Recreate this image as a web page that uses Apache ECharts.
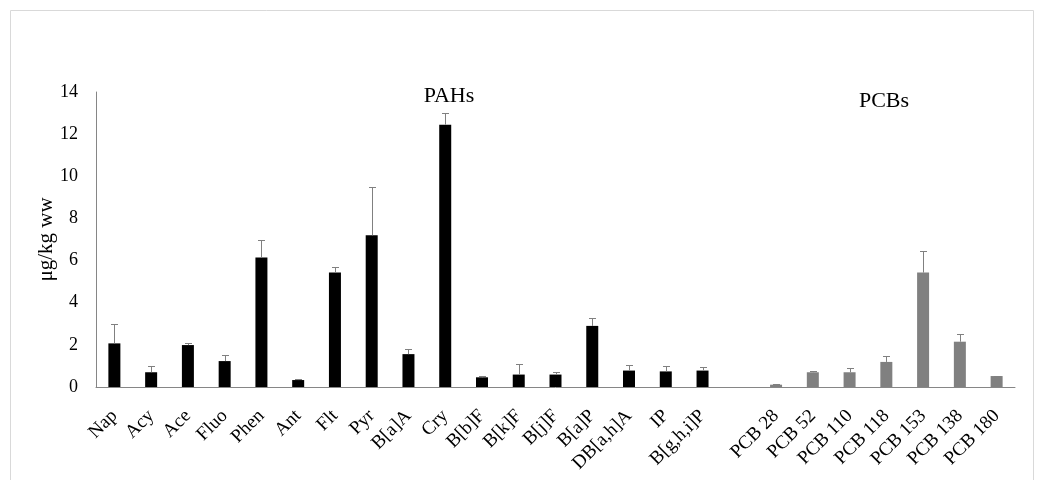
<!DOCTYPE html>
<html>
<head>
<meta charset="utf-8">
<script src="https://cdn.jsdelivr.net/npm/echarts@6/dist/echarts.min.js"></script>
<style>
html,body{margin:0;padding:0;background:#fff;}
#chart{width:1041px;height:480px;}
</style>
</head>
<body>
<div id="chart"></div>
<script>
var pahNames = ['Nap','Acy','Ace','Fluo','Phen','Ant','Flt','Pyr','B[a]A','Cry','B[b]F','B[k]F','B[j]F','B[a]P','DB[a,h]A','IP','B[g,h,i]P'];
var pahValues = [2.07,0.70,1.99,1.23,6.15,0.33,5.43,7.20,1.56,12.45,0.46,0.59,0.59,2.90,0.78,0.74,0.78];
var pahErrors = [0.92,0.30,0.10,0.29,0.82,0.04,0.25,2.29,0.24,0.55,0.06,0.49,0.12,0.39,0.28,0.27,0.15];
var pcbNames = ['PCB 28','PCB 52','PCB 110','PCB 118','PCB 153','PCB 138','PCB 180'];
var pcbValues = [0.11,0.70,0.70,1.19,5.43,2.15,0.52];
var pcbErrors = [0.02,0.08,0.20,0.28,1.04,0.37,0.02];
var yTicks = [0,2,4,6,8,10,12,14];

var categories = pahNames.concat(['']).concat(pcbNames);
var barData = [];
var errData = [];
pahNames.forEach(function(n,i){
  barData.push({value: pahValues[i], itemStyle:{color:'#000000'}});
  errData.push([i, pahValues[i], pahValues[i]+pahErrors[i]]);
});
barData.push('-');
pcbNames.forEach(function(n,i){
  var idx = pahNames.length + 1 + i;
  barData.push({value: pcbValues[i], itemStyle:{color:'#808080'}});
  errData.push([idx, pcbValues[i], pcbValues[i]+pcbErrors[i]]);
});

var chart = echarts.init(document.getElementById('chart'), null, {renderer:'canvas'});
var font = '"Liberation Serif", "Times New Roman", serif';
chart.setOption({
  animation: false,
  grid: {left: 96, right: 26, top: 92, bottom: 93, containLabel: false},
  graphic: [
    {type:'rect', shape:{x:10.5,y:10.5,width:1023,height:480}, style:{fill:'none', stroke:'#d9d9d9', lineWidth:1}, silent:true},
    {type:'text', x:449, y:96, style:{text:'PAHs', font:'22px '+font, fill:'#000', align:'center', verticalAlign:'middle'}},
    {type:'text', x:884, y:101, style:{text:'PCBs', font:'22px '+font, fill:'#000', align:'center', verticalAlign:'middle'}}
  ],
  xAxis: {
    type: 'category',
    data: categories,
    axisLine: {lineStyle:{color:'#868686', width:1}},
    axisTick: {show:false},
    axisLabel: {rotate:45, interval:0, fontFamily:'Liberation Serif', fontSize:19, color:'#000', margin:26},
    splitLine: {show:false}
  },
  yAxis: {
    type: 'value',
    min: 0, max: 14, interval: 2,
    name: 'μg/kg ww',
    nameLocation: 'middle',
    nameGap: 39,
    nameMoveOverlap: false,
    nameTextStyle: {fontFamily:'Liberation Serif', fontSize:21, color:'#000'},
    axisLine: {show:true, lineStyle:{color:'#868686', width:1}},
    axisTick: {show:false},
    axisLabel: {fontFamily:'Liberation Serif', fontSize:18, color:'#000', margin:18,
      formatter: function(v){ return yTicks.indexOf(v) >= 0 ? String(v) : ''; }},
    splitLine: {show:false}
  },
  series: [
    {type:'bar', data: barData, barWidth: 12},
    {type:'custom', data: errData, z: 3,
      renderItem: function(params, api){
        var x = api.value(0);
        var p1 = api.coord([x, api.value(1)]);
        var p2 = api.coord([x, api.value(2)]);
        var cx = Math.round(p1[0]) + 0.5;
        var st = {stroke:'#808080', lineWidth:1};
        return {type:'group', children:[
          {type:'line', shape:{x1:cx, y1:p1[1], x2:cx, y2:Math.round(p2[1])+0.5}, style:st},
          {type:'line', shape:{x1:cx-3.5, y1:Math.round(p2[1])+0.5, x2:cx+3.5, y2:Math.round(p2[1])+0.5}, style:st}
        ]};
      }
    }
  ]
});
</script>
</body>
</html>
